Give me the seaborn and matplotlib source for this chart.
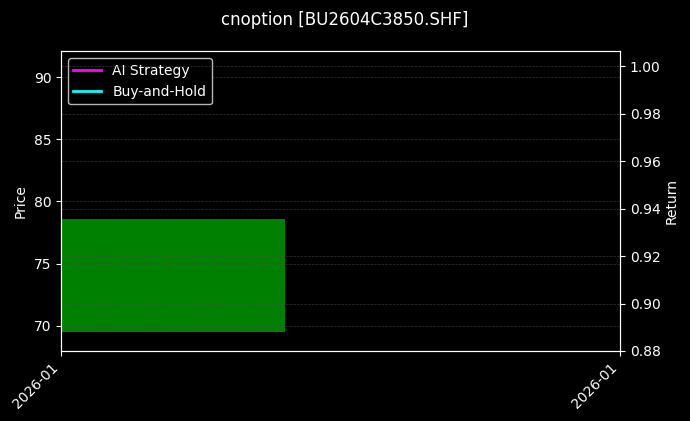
import pandas as pd
import matplotlib
matplotlib.use('Agg')
import matplotlib.pyplot as plt
import matplotlib.dates as mdates
import seaborn as sns

# single bar of data
dates = pd.to_datetime(['2026-01-05'])
open_px = [69.5]
close_px = [78.6]
ai_strategy = [1.0]
buy_hold = [1.0]

AI_COLOR = '#ff00ff'
BH_COLOR = '#00ffff'
UP_COLOR = 'green'

plt.style.use('dark_background')
plt.rcParams['font.family'] = ['DejaVu Sans']

fig = plt.figure(figsize=(6.9, 4.21), dpi=100)
ax = fig.add_axes([0.0884, 0.1663, 0.8102, 0.7117])

heights = [c - o for o, c in zip(open_px, close_px)]
ax.bar(dates, heights, bottom=open_px, width=0.8, align='edge', color=UP_COLOR)
ax.set_ylim(67.96, 92.09)
ax.set_xlim(dates[0], dates[0] + pd.Timedelta(days=2))
ax.set_ylabel('Price')
ax.grid(True, linestyle='--', color='#555555', alpha=0.6, linewidth=0.5)

ax2 = ax.twinx()
df = pd.DataFrame({'date': dates, 'AI Strategy': ai_strategy, 'Buy-and-Hold': buy_hold})
sns.lineplot(data=df, x='date', y='AI Strategy', ax=ax2, color=AI_COLOR, linewidth=2, label='AI Strategy', legend=False)
sns.lineplot(data=df, x='date', y='Buy-and-Hold', ax=ax2, color=BH_COLOR, linewidth=2, label='Buy-and-Hold', legend=False)
ax2.set_ylim(0.88, 1.0062)
ax2.set_yticks([0.88, 0.90, 0.92, 0.94, 0.96, 0.98, 1.00])
ax2.set_ylabel('Return', labelpad=3)
ax2.grid(True, linestyle='--', color='#555555', alpha=0.6, linewidth=0.5)
ax2.set_xlim(dates[0], dates[0] + pd.Timedelta(days=2))

ax.set_xticks([dates[0], dates[0] + pd.Timedelta(days=2)])
ax.xaxis.set_major_formatter(mdates.DateFormatter('%Y-%m'))
ax2.set_xlabel('')
for lbl in ax.get_xticklabels():
    lbl.set_rotation(45)
    lbl.set_ha('right')

h, l = ax2.get_legend_handles_labels()
ax.legend(h, l, loc='upper left', facecolor='black', edgecolor='#cccccc', framealpha=0.9)

fig.suptitle('cnoption [BU2604C3850.SHF]', fontsize=12, y=0.975)
fig.savefig('out.png', dpi=100)
